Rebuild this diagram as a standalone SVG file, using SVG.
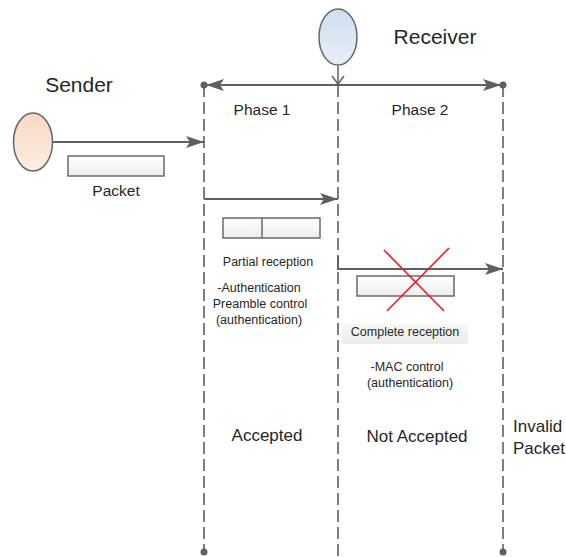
<svg xmlns="http://www.w3.org/2000/svg" width="566" height="557" viewBox="0 0 566 557">
  <style>
    .lbl { font-family: "Liberation Sans", Arial, sans-serif; fill: #262626; }
    .life { stroke: #5f5f5f; stroke-width: 1.6; stroke-dasharray: 12 5; fill: none; }
    .conn { stroke: #5f5f5f; stroke-width: 2; fill: none; }
    .pkt { fill: url(#pktFill); stroke: #6a6a6a; stroke-width: 1.5; }
    .dot { fill: #5f5f5f; }
    .cross { stroke: #ee1c24; stroke-width: 1.6; }
  </style>
  <defs>
    <linearGradient id="senderFill" x1="0" y1="0" x2="0" y2="1">
      <stop offset="0" stop-color="#f8d8c3"/>
      <stop offset="1" stop-color="#fdeee4"/>
    </linearGradient>
    <linearGradient id="receiverFill" x1="0" y1="0" x2="0" y2="1">
      <stop offset="0" stop-color="#cfdeee"/>
      <stop offset="1" stop-color="#e8eff7"/>
    </linearGradient>
    <linearGradient id="pktFill" x1="0" y1="0" x2="0" y2="1">
      <stop offset="0" stop-color="#ffffff"/>
      <stop offset="1" stop-color="#ececec"/>
    </linearGradient>
    <linearGradient id="noteFill" x1="0" y1="0" x2="0" y2="1">
      <stop offset="0" stop-color="#f7f7f7"/>
      <stop offset="1" stop-color="#ececec"/>
    </linearGradient>
    <marker id="arrowBig" viewBox="0 0 18 12" refX="18" refY="6" markerWidth="18" markerHeight="12" markerUnits="userSpaceOnUse" orient="auto">
      <path d="M0,0 L18,6 L0,12 L4,6 Z" fill="#5f5f5f"/>
    </marker>
  </defs>

  <!-- lifelines and phase boundaries -->
  <g id="lifelines">
    <line class="life" x1="204" y1="85" x2="204" y2="552"/>
    <line class="life" x1="338" y1="85" x2="338" y2="557"/>
    <line class="life" x1="503" y1="85" x2="503" y2="552"/>
    <circle class="dot" cx="204" cy="85" r="3.5"/>
    <circle class="dot" cx="503" cy="85" r="3.5"/>
    <circle class="dot" cx="204" cy="552" r="3.5"/>
    <circle class="dot" cx="503" cy="552" r="3.5"/>
  </g>

  <!-- connectors -->
  <g id="connectors">
    <line class="conn" x1="338" y1="85" x2="206" y2="85" marker-end="url(#arrowBig)"/>
    <line class="conn" x1="338" y1="85" x2="501" y2="85" marker-end="url(#arrowBig)"/>
    <path d="M338,66 L338,84" stroke="#5f5f5f" stroke-width="1.5" fill="none"/>
    <path d="M332,76 L338,84 L344,76" stroke="#5f5f5f" stroke-width="1.5" fill="none"/>
    <line class="conn" x1="52" y1="142" x2="204" y2="142" marker-end="url(#arrowBig)"/>
    <line class="conn" x1="204" y1="199" x2="338" y2="199" marker-end="url(#arrowBig)"/>
    <path class="conn" d="M338,256 L338,269 L503,269" marker-end="url(#arrowBig)"/>
  </g>

  <!-- sender -->
  <g id="sender">
    <ellipse cx="33" cy="142" rx="19.5" ry="29" fill="url(#senderFill)" stroke="#666666" stroke-width="1.5"/>
    <text class="lbl" x="79" y="92" font-size="21" text-anchor="middle">Sender</text>
  </g>

  <!-- receiver -->
  <g id="receiver">
    <ellipse cx="338" cy="37" rx="19" ry="28" fill="url(#receiverFill)" stroke="#666666" stroke-width="1.5"/>
    <text class="lbl" x="435" y="44" font-size="21" text-anchor="middle">Receiver</text>
  </g>

  <!-- packet sent -->
  <g id="packet">
    <rect class="pkt" x="68" y="156" width="96" height="20"/>
    <text class="lbl" x="116" y="196" font-size="15.5" text-anchor="middle">Packet</text>
  </g>

  <!-- phase headers -->
  <g id="phase1">
    <text class="lbl" x="262" y="115" font-size="15.5" text-anchor="middle">Phase 1</text>
  </g>
  <g id="phase2">
    <text class="lbl" x="420" y="115" font-size="15.5" text-anchor="middle">Phase 2</text>
  </g>

  <!-- partial reception -->
  <g id="partial">
    <rect class="pkt" x="223" y="218" width="97" height="20"/>
    <line x1="262" y1="218" x2="262" y2="238" stroke="#6a6a6a" stroke-width="1.5"/>
    <text class="lbl" x="268" y="266" font-size="12.5" text-anchor="middle">Partial reception</text>
    <text class="lbl" x="259" y="292" font-size="12.5" text-anchor="middle">-Authentication</text>
    <text class="lbl" x="260" y="308" font-size="12.5" text-anchor="middle">Preamble control</text>
    <text class="lbl" x="259" y="324" font-size="12.5" text-anchor="middle">(authentication)</text>
  </g>

  <!-- complete reception (rejected) -->
  <g id="complete">
    <rect class="pkt" x="357" y="276" width="97" height="20"/>
    <line class="cross" x1="384" y1="250" x2="444" y2="311"/>
    <line class="cross" x1="449" y1="248" x2="387" y2="311"/>
    <rect x="342" y="324" width="126" height="20" fill="url(#noteFill)"/>
    <text class="lbl" x="405" y="336" font-size="12.5" text-anchor="middle">Complete reception</text>
    <text class="lbl" x="407" y="371" font-size="12.5" text-anchor="middle">-MAC control</text>
    <text class="lbl" x="410" y="387" font-size="12.5" text-anchor="middle">(authentication)</text>
  </g>

  <!-- outcomes -->
  <g id="accepted">
    <text class="lbl" x="267" y="441" font-size="17" text-anchor="middle">Accepted</text>
  </g>
  <g id="notAccepted">
    <text class="lbl" x="417" y="442" font-size="17" text-anchor="middle">Not Accepted</text>
  </g>
  <g id="invalid">
    <text class="lbl" x="513" y="432" font-size="17">Invalid</text>
    <text class="lbl" x="513" y="454" font-size="17">Packet</text>
  </g>
</svg>
